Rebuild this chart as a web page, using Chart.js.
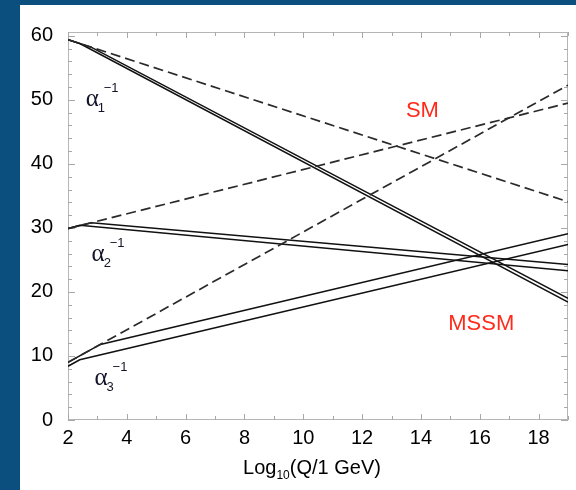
<!DOCTYPE html>
<html><head><meta charset="utf-8">
<script src="https://cdn.jsdelivr.net/npm/chart.js@4"></script>
<style>
html,body{margin:0;padding:0;background:#0b4f7f;width:576px;height:490px;overflow:hidden}
#panel{position:absolute;left:20px;top:5px;width:556px;height:485px;background:#fff}
canvas{display:block}
</style></head><body>
<div id="panel"><canvas id="c" width="556" height="485"></canvas></div>
<script>
// ---- data ----
const xTickLabels = [2, 4, 6, 8, 10, 12, 14, 16, 18];
const yTickLabels = [0, 10, 20, 30, 40, 50, 60];

// Standard Model (dashed)
const smX      = [2, 19];
const alpha1SM = [59.4, 34.1];
const alpha2SM = [29.9, 49.5];
const alpha3SM = [9.0, 52.3];

// MSSM (solid, two lines per coupling)
const alpha1HiX = [2, 2.8, 19];
const alpha1Hi  = [59.4, 58.2, 19.0];
const alpha1LoX = [2, 2.4, 19];
const alpha1Lo  = [59.4, 58.8, 18.4];

const alpha2HiX = [2, 2.8, 19];
const alpha2Hi  = [29.9, 30.8, 24.3];
const alpha2LoX = [2, 2.4, 19];
const alpha2Lo  = [29.9, 30.4, 23.3];

const alpha3HiX = [2, 3.1, 19];
const alpha3Hi  = [9.0, 11.8, 29.1];
const alpha3LoX = [2, 2.4, 19];
const alpha3Lo  = [8.4, 9.4, 27.4];

function pts(xs, ys){ return xs.map((x,i)=>({x:x, y:ys[i]})); }

const dashStyle = {borderColor:'#2a2a2a', borderWidth:1.7, borderDash:[10,5], pointRadius:0, fill:false, tension:0};
const solidStyle = {borderColor:'#111', borderWidth:1.5, pointRadius:0, fill:false, tension:0};

const datasets = [
  Object.assign({data: pts(smX, alpha1SM)}, dashStyle),
  Object.assign({data: pts(smX, alpha2SM)}, dashStyle),
  Object.assign({data: pts(smX, alpha3SM)}, dashStyle),
  Object.assign({data: pts(alpha1HiX, alpha1Hi)}, solidStyle),
  Object.assign({data: pts(alpha1LoX, alpha1Lo)}, solidStyle),
  Object.assign({data: pts(alpha2HiX, alpha2Hi)}, solidStyle),
  Object.assign({data: pts(alpha2LoX, alpha2Lo)}, solidStyle),
  Object.assign({data: pts(alpha3HiX, alpha3Hi)}, solidStyle),
  Object.assign({data: pts(alpha3LoX, alpha3Lo)}, solidStyle),
];

const SANS = '"Liberation Sans", Arial, Helvetica, sans-serif';
const SERIF = '"Liberation Serif", "Times New Roman", serif';

const framePlugin = {
  id:'frame',
  beforeDatasetsDraw(chart){
    const {ctx, chartArea:a, scales:{x, y}} = chart;
    ctx.save();
    ctx.strokeStyle = '#b5b5b5';
    ctx.lineWidth = 1;
    ctx.strokeRect(a.left+0.5, a.top+0.5, a.right-a.left-1, a.bottom-a.top-1);
    ctx.strokeStyle = '#a8a8a8';
    ctx.beginPath();
    for (let v = x.min; v <= x.max; v += 1){
      const px = Math.round(x.getPixelForValue(v)) + 0.5;
      const len = (v % 2 === 0) ? 6 : 4;
      ctx.moveTo(px, a.bottom); ctx.lineTo(px, a.bottom - len);
      ctx.moveTo(px, a.top); ctx.lineTo(px, a.top + len);
    }
    for (let v = 0; v <= 60; v += 2){
      const py = Math.round(y.getPixelForValue(v)) + 0.5;
      const len = (v % 10 === 0) ? 7 : 4;
      ctx.moveTo(a.left, py); ctx.lineTo(a.left + len, py);
      ctx.moveTo(a.right, py); ctx.lineTo(a.right - len, py);
    }
    ctx.stroke();
    ctx.restore();
  },
  afterDraw(chart){
    const {ctx, chartArea:a, scales:{x, y}} = chart;
    ctx.save();
    ctx.textBaseline = 'alphabetic';
    // alpha labels
    function alphaLabel(xv, yv, sub){
      const px = x.getPixelForValue(xv), py = y.getPixelForValue(yv);
      ctx.fillStyle = '#141428';
      ctx.textAlign = 'left';
      ctx.font = '25px ' + SERIF;
      ctx.fillText('\u03B1', px, py);
      const w = ctx.measureText('\u03B1').width;
      ctx.font = '13px ' + SANS;
      ctx.fillText(sub, px + w - 1, py + 6);
      ctx.fillText('\u22121', px + w + 5, py - 14);
    }
    alphaLabel(2.6, 49.1, '1');
    alphaLabel(2.8, 24.8, '2');
    alphaLabel(2.9, 5.4, '3');
    // SM / MSSM
    ctx.fillStyle = '#ff2a1a';
    ctx.textAlign = 'center';
    ctx.textBaseline = 'middle';
    ctx.font = '22px ' + SANS;
    ctx.fillText('SM', x.getPixelForValue(14.05), y.getPixelForValue(48.3));
    ctx.fillText('MSSM', x.getPixelForValue(16.05), y.getPixelForValue(15.0));
    // x title
    ctx.fillStyle = '#000';
    ctx.textBaseline = 'alphabetic';
    ctx.textAlign = 'left';
    const cx = (a.left + a.right)/2 - 6, by = a.bottom + 54;
    ctx.font = '20px ' + SANS;
    const w1 = ctx.measureText('Log').width;
    ctx.font = '12px ' + SANS;
    const w2 = ctx.measureText('10').width;
    ctx.font = '20px ' + SANS;
    const w3 = ctx.measureText('(Q/1 GeV)').width;
    let sx = cx - (w1 + w2 + w3)/2;
    ctx.fillText('Log', sx, by);
    ctx.font = '12px ' + SANS;
    ctx.fillText('10', sx + w1, by + 5);
    ctx.font = '20px ' + SANS;
    ctx.fillText('(Q/1 GeV)', sx + w1 + w2, by);
    ctx.restore();
  }
};

new Chart(document.getElementById('c'), {
  type: 'line',
  data: { datasets },
  options: {
    responsive: false,
    animation: false,
    events: [],
    layout: { padding: { left: 0, top: 22, right: 8, bottom: 0 } },
    plugins: { legend: {display:false}, tooltip: {enabled:false} },
    scales: {
      x: {
        type: 'linear', min: 2, max: 19,
        grid: { display: false, drawTicks: false },
        border: { display: false },
        ticks: {
          stepSize: 1, autoSkip: false, maxRotation: 0, padding: 6,
          color: '#000', font: { family: SANS, size: 20 },
          callback: v => xTickLabels.includes(v) ? String(v) : ''
        },
        afterFit: s => { s.height = 70; }
      },
      y: {
        type: 'linear', min: 0, max: 60.6,
        grid: { display: false, drawTicks: false },
        border: { display: false },
        ticks: {
          stepSize: 10, includeBounds: false, padding: 15,
          color: '#000', font: { family: SANS, size: 20 },
          callback: v => yTickLabels.includes(v) ? String(v) : ''
        },
        afterFit: s => { s.width = 48; }
      }
    }
  },
  plugins: [framePlugin]
});
</script>
</body></html>
